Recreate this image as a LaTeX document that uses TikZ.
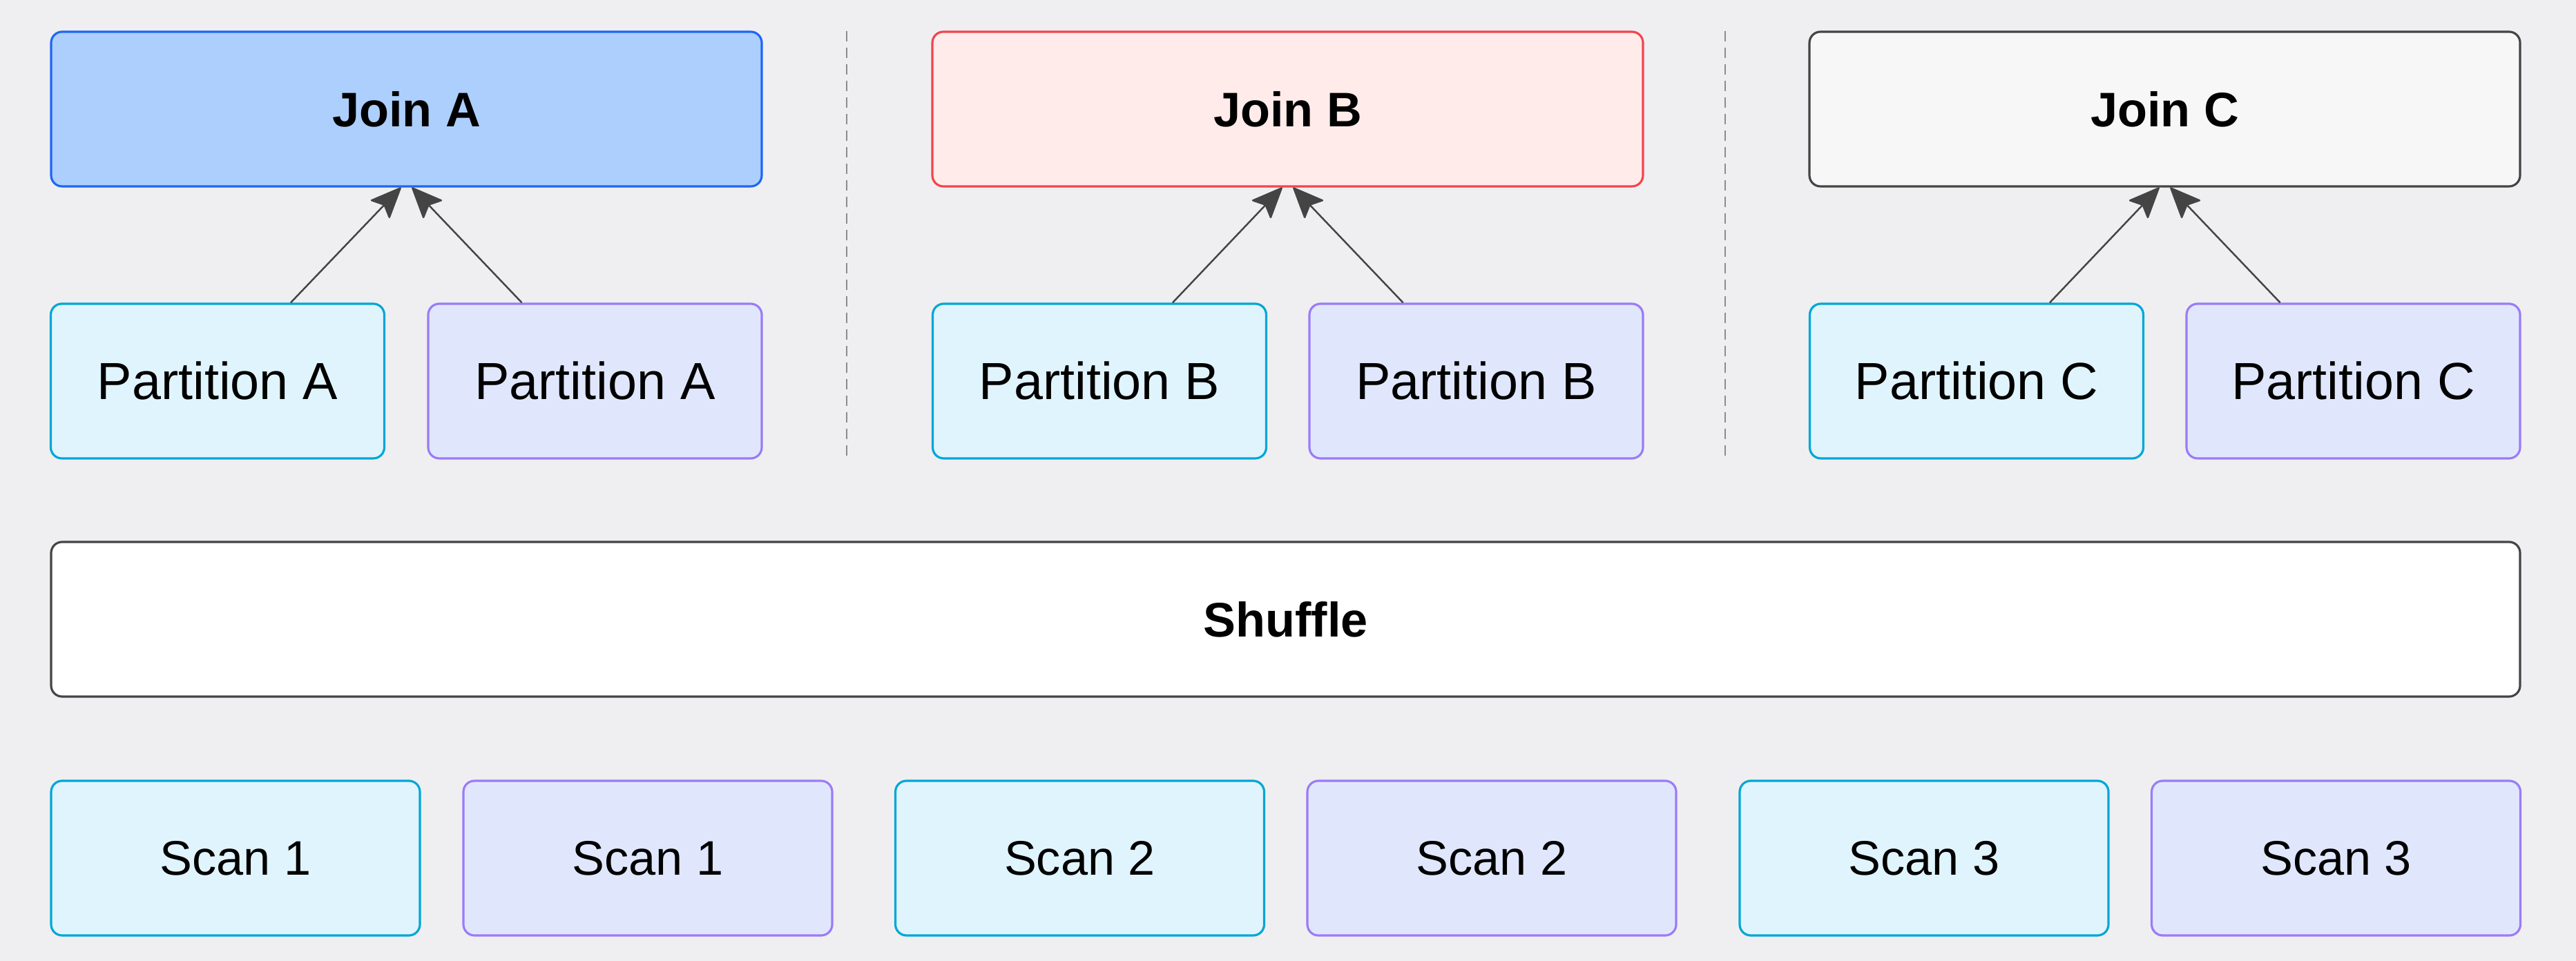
\documentclass[tikz,border=0pt]{standalone}
\usepackage{fontspec}
\setmainfont{Liberation Sans}
\usepackage{xcolor}
\usetikzlibrary{arrows.meta}
\usetikzlibrary{positioning}

\definecolor{bgcol}{HTML}{EFEFF1}
\definecolor{joinafill}{HTML}{ADCFFD}
\definecolor{joinaline}{HTML}{1F66F5}
\definecolor{joinbfill}{HTML}{FFEBEA}
\definecolor{joinbline}{HTML}{F2454D}
\definecolor{joincfill}{HTML}{F7F7F7}
\definecolor{darkline}{HTML}{444444}
\definecolor{cyanfill}{HTML}{E0F4FD}
\definecolor{cyanline}{HTML}{00A6D6}
\definecolor{purpfill}{HTML}{E0E7FD}
\definecolor{purpline}{HTML}{9B7BF7}

\tikzset{
  box/.style={draw, rounded corners=0.16cm, line width=0.9pt, inner sep=0pt,
    minimum height=2.24cm, font=\fontsize{20}{24}\selectfont},
  joinbox/.style={box, minimum width=10.29cm, font=\fontsize{20}{24}\selectfont\bfseries},
  cyanbox/.style={box, draw=cyanline, fill=cyanfill},
  purpbox/.style={box, draw=purpline, fill=purpfill},
  partbox/.style={minimum width=4.83cm, font=\fontsize{21.5}{26}\selectfont},
  feed/.style={-{Stealth[length=0.47cm, width=0.40cm, inset=0.09cm, round]}, line width=0.7pt, darkline},
  divider/.style={gray!90, line width=0.5pt, dash pattern=on 0.15cm off 0.09cm}
}

\begin{document}
\begin{tikzpicture}

%background
\fill[bgcol] (0,0) rectangle (37.3,13.92);

%dividers
\draw[divider] (12.26,13.47) -- (12.26,7.27);
\draw[divider] (24.98,13.47) -- (24.98,7.27);

%joins
\node[joinbox, draw=joinaline, fill=joinafill] (ja) at (5.885,12.34) {Join A};
\node[joinbox, draw=joinbline, fill=joinbfill] (jb) at (18.645,12.34) {Join B};
\node[joinbox, draw=darkline, fill=joincfill] (jc) at (31.345,12.34) {Join C};

%partitions
\node[cyanbox, partbox] (pa1) at (3.15,8.40) {Partition A};
\node[purpbox, partbox] (pa2) at (8.615,8.40) {Partition A};
\node[cyanbox, partbox] (pb1) at (15.92,8.40) {Partition B};
\node[purpbox, partbox] (pb2) at (21.375,8.40) {Partition B};
\node[cyanbox, partbox] (pc1) at (28.62,8.40) {Partition C};
\node[purpbox, partbox] (pc2) at (34.075,8.40) {Partition C};

%arrows
\draw[feed] (pa1.47) -- (ja.266);
\draw[feed] (pa2.133) -- (ja.274);
\draw[feed] (pb1.47) -- (jb.266);
\draw[feed] (pb2.133) -- (jb.274);
\draw[feed] (pc1.47) -- (jc.266);
\draw[feed] (pc2.133) -- (jc.274);

%shuffle
\node[box, draw=darkline, fill=white, minimum width=35.75cm,
  font=\fontsize{20}{24}\selectfont\bfseries] (shuf) at (18.615,4.95) {Shuffle};

%scans
\node[cyanbox, minimum width=5.34cm] (s1a) at (3.41,1.49) {Scan 1};
\node[purpbox, minimum width=5.34cm] (s1b) at (9.38,1.49) {Scan 1};
\node[cyanbox, minimum width=5.34cm] (s2a) at (15.635,1.49) {Scan 2};
\node[purpbox, minimum width=5.34cm] (s2b) at (21.60,1.49) {Scan 2};
\node[cyanbox, minimum width=5.34cm] (s3a) at (27.86,1.49) {Scan 3};
\node[purpbox, minimum width=5.34cm] (s3b) at (33.825,1.49) {Scan 3};

\end{tikzpicture}
\end{document}
